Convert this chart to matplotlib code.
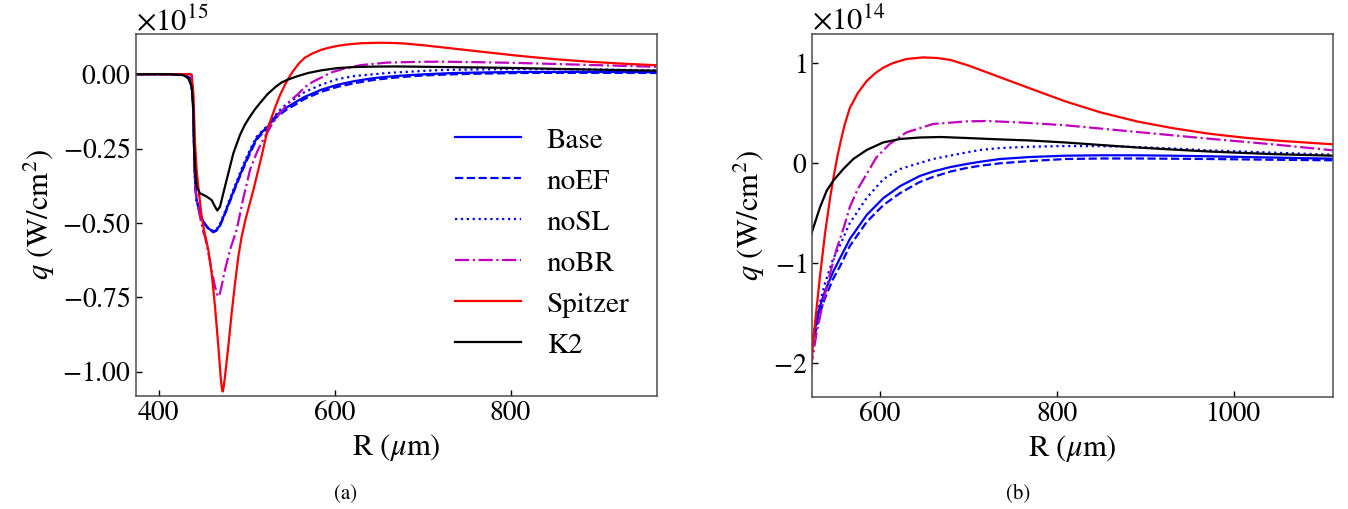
import matplotlib
matplotlib.use("Agg")
import matplotlib.pyplot as plt
from matplotlib.ticker import ScalarFormatter
import numpy as np

plt.rcParams['font.family'] = 'STIXGeneral'
plt.rcParams['mathtext.fontset'] = 'stix'

# q values in units of 1e14 W/cm^2, R in um
r_base = [374, 412, 430, 435.7, 438.7, 439.8, 440.6, 441.7, 443.2, 447, 450.8, 456.5, 462.2, 466,
          469.8, 475.4, 481.1, 488.7, 496.3, 503.9, 511.4, 519, 524.7, 532, 538, 547, 555, 566, 585,
          604, 623, 645, 660, 680, 698, 713, 736, 770, 810, 850, 891, 930, 972, 1040, 1112]
q_base = [0, 0, -0.03, -0.14, -0.64, -1.76, -2.88, -3.78, -4.23, -4.67, -4.95, -5.18, -5.29, -5.23,
          -5.07, -4.67, -4.23, -3.66, -3.11, -2.6, -2.15, -1.9, -1.74, -1.44, -1.28, -1.09, -0.95, -0.76, -0.52,
          -0.35, -0.23, -0.13, -0.085, -0.04, -0.01, 0.012, 0.04, 0.06, 0.073, 0.077, 0.077, 0.073, 0.067, 0.055, 0.043]
q_noef = [0, 0, -0.03, -0.14, -0.64, -1.76, -2.88, -3.78, -4.23, -4.67, -4.97, -5.2, -5.31, -5.25,
          -5.09, -4.7, -4.27, -3.7, -3.16, -2.66, -2.2, -1.95, -1.79, -1.5, -1.35, -1.16, -1.03, -0.83, -0.59,
          -0.42, -0.3, -0.19, -0.14, -0.085, -0.05, -0.028, -0.003, 0.02, 0.04, 0.045, 0.045, 0.043, 0.04, 0.033, 0.027]
q_nosl = [0, 0, -0.03, -0.14, -0.64, -1.76, -2.88, -3.78, -4.23, -4.67, -4.95, -5.17, -5.27, -5.2,
          -5.03, -4.62, -4.17, -3.6, -3.04, -2.53, -2.1, -1.86, -1.71, -1.4, -1.2, -0.96, -0.82, -0.6, -0.35,
          -0.16, -0.06, 0.0, 0.04, 0.075, 0.106, 0.13, 0.15, 0.163, 0.17, 0.168, 0.16, 0.145, 0.127, 0.105, 0.083]

r_nobr = [374, 436, 437.6, 438.7, 439.8, 440.6, 441.7, 443.2, 447, 450.8, 452.7, 456.5, 460.3, 464.1,
          466.5, 467.9, 469.5, 471, 475.4, 481.1, 488.7, 496, 504, 512, 518, 524.7, 528.4, 536, 543.5, 551,
          558.6, 566, 575, 585, 596, 611, 630, 660, 698, 720, 760, 810, 891, 972, 1040, 1112]
q_nobr = [0, 0, -0.03, -0.64, -1.76, -2.88, -3.78, -4.23, -4.79, -5.3, -5.46, -6.0, -6.58, -7.14,
          -7.4, -7.47, -7.38, -7.2, -6.58, -5.9, -5.23, -4.2, -3.2, -2.6, -2.25, -1.9, -1.7, -1.38, -1.11, -0.86,
          -0.66, -0.44, -0.26, -0.11, 0.056, 0.19, 0.306, 0.39, 0.416, 0.42, 0.405, 0.377, 0.31, 0.243, 0.19, 0.127]

r_spitzer = [374, 436, 437.6, 439.5, 441.4, 443.2, 445.1, 448.9, 451.5, 456.5, 460.3, 464.1, 467.9, 470.5,
             471.7, 472.8, 473.9, 475.4, 479.2, 483, 486.8, 490.6, 494.4, 499, 507.6, 517.1, 524.5, 532,
             538, 544, 548, 552, 556, 560, 566, 575, 585, 595, 604, 615, 630, 649, 665, 680, 700, 729,
             770, 810, 850, 891, 930, 972, 1010, 1052, 1112]
q_spitzer = [0, 0, -0.03, -0.64, -2.32, -3.22, -3.78, -4.79, -5.23, -5.9, -6.69, -7.81, -9.15, -10.16,
             -10.52, -10.66, -10.52, -10.16, -9.15, -8.03, -7.03, -6.13, -5.45, -4.85, -3.9, -2.75, -1.78, -1.15,
             -0.7, -0.33, -0.12, 0.07, 0.23, 0.38, 0.55, 0.7, 0.82, 0.9, 0.955, 1.0, 1.04, 1.056, 1.05, 1.03, 0.975, 0.88,
             0.745, 0.615, 0.505, 0.415, 0.35, 0.293, 0.255, 0.222, 0.187]

r_k2 = [374, 413, 428, 433.8, 437.6, 439.5, 440.2, 441.4, 443.2, 447, 454.6, 460.3, 464.1, 466.7, 469.8,
        473.5, 479.2, 484.9, 492.5, 498, 503.9, 509.5, 515.2, 523.5, 532.2, 539.8, 547.3, 558.6, 569.9, 585,
        603.8, 622.7, 645, 668.7, 698, 735.7, 770, 810, 850, 891, 930, 972, 1040, 1112]
q_k2 = [0, 0, -0.03, -0.14, -0.42, -1.2, -2.32, -3.11, -3.78, -4.0, -4.11, -4.23, -4.45, -4.58, -4.45,
        -4.0, -3.33, -2.66, -2.04, -1.7, -1.42, -1.18, -0.97, -0.68, -0.444, -0.277, -0.177, -0.06, 0.04, 0.13,
        0.206, 0.24, 0.255, 0.26, 0.25, 0.236, 0.225, 0.205, 0.18, 0.155, 0.135, 0.115, 0.09, 0.073]

series = [
    ("Base", r_base, q_base, "b", "-"),
    ("noEF", r_base, q_noef, "b", "--"),
    ("noSL", r_base, q_nosl, "b", ":"),
    ("noBR", r_nobr, q_nobr, "m", "-."),
    ("Spitzer", r_spitzer, q_spitzer, "r", "-"),
    ("K2", r_k2, q_k2, "k", "-"),
]

fig = plt.figure(figsize=(13.48, 5.09), dpi=100)
ax1 = fig.add_axes([136/1348, 1-396/509, 521/1348, 362/509])
ax2 = fig.add_axes([812/1348, 1-397/509, 521/1348, 363/509])

for ax in (ax1, ax2):
    for name, r, q, c, ls in series:
        ax.plot(r, np.array(q)*1e14, color=c, linestyle=ls, lw=1.6, label=name)
    fmt = ScalarFormatter(useMathText=True)
    ax.yaxis.set_major_formatter(fmt)
    ax.tick_params(direction='in', labelsize=20, length=4, width=1)
    ax.yaxis.get_offset_text().set_fontsize(22)
    for s in ax.spines.values():
        s.set_color('0.3')
        s.set_linewidth(1.1)
    ax.set_xlabel(r'R ($\mu$m)', fontsize=22)
    ax.set_ylabel(r'$q$ (W/cm$^2$)', fontsize=22)

ax1.set_xlim(374.3, 966.4)
ax1.set_ylim(-1.081e15, 0.135e15)
ax1.set_xticks([400, 600, 800])
ax1.set_yticks(np.array([-1.0, -0.75, -0.5, -0.25, 0.0])*1e15)

ax2.set_xlim(523.2, 1112.3)
ax2.set_ylim(-2.34e14, 1.29e14)
ax2.set_xticks([600, 800, 1000])
ax2.set_yticks([-2e14, -1e14, 0, 1e14])

ax1.legend(loc='center', bbox_to_anchor=(0.78, 0.423), frameon=False, fontsize=21,
           handlelength=2.25, handletextpad=0.9, labelspacing=0.5)

fig.text(346/1348, 1-494/509, '(a)', ha='center', va='center', fontsize=15)
fig.text(1018/1348, 1-494/509, '(b)', ha='center', va='center', fontsize=15)

fig.savefig("out.png", dpi=100)
